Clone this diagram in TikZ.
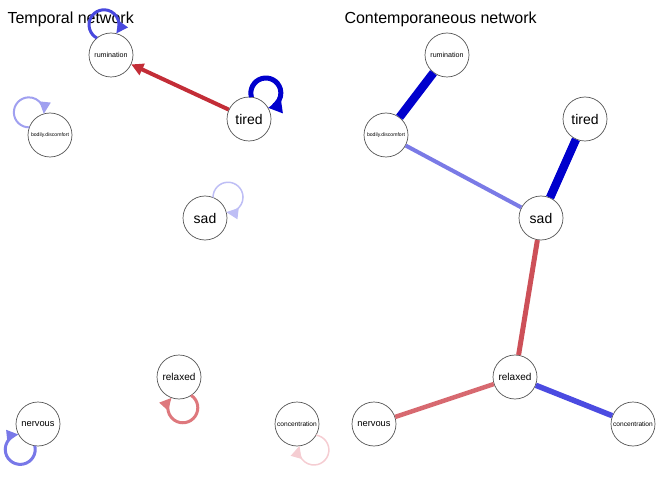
\documentclass[tikz,border=0pt]{standalone}
\usepackage{fontspec}
\setmainfont{Liberation Sans}
\usepackage{tikz}
\usetikzlibrary{arrows.meta}

\definecolor{posfull}{RGB}{0,0,205}
\definecolor{posrum}{RGB}{72,72,222}
\definecolor{posnerv}{RGB}{120,120,232}
\definecolor{posbod}{RGB}{160,160,240}
\definecolor{possad}{RGB}{190,190,245}
\definecolor{posmid}{RGB}{122,122,230}
\definecolor{posconc}{RGB}{75,75,225}
\definecolor{negtemp}{RGB}{195,45,55}
\definecolor{negrel}{RGB}{222,120,125}
\definecolor{negconc}{RGB}{245,205,210}
\definecolor{negsad}{RGB}{205,80,88}
\definecolor{negnerv}{RGB}{215,105,112}
\definecolor{rim}{RGB}{85,85,85}

\begin{document}
\begin{tikzpicture}[
  x=1pt, y=1pt,
  var/.style={circle, draw=rim, line width=0.7pt, fill=white,
              minimum size=44pt, inner sep=0pt, text=black},
  title/.style={anchor=base west, font=\fontsize{16}{16}\selectfont},
  tedge/.style={-{Triangle[length=12pt, width=12pt]}},
  selfloop/.style={-{Triangle[length=12pt, width=11pt]}},
  cedge/.style={line cap=butt}
]
  \useasboundingbox (0,0) rectangle (672,480);

  % titles
  \node[title] (ttl) at (4,456) {Temporal network};
  \node[title] (ctl) at (341,456) {Contemporaneous network};

  % same layout in both panels
  \foreach \nm/\x/\y/\lab/\fs in {R/111/425/rumination/7.1,
      B/50/345/bodily.discomfort/5.1, T/249/361/tired/14, S/205/262/sad/14,
      X/179/103/relaxed/10, N/38/56/nervous/9.3, C/297/56/concentration/6.6} {
    \node[var, font=\fontsize{\fs}{\fs}\selectfont] (t\nm) at (\x,\y) {\lab};
    \node[var, font=\fontsize{\fs}{\fs}\selectfont] (c\nm) at (\x+336,\y) {\lab};
  }

  % temporal network
  \draw[tedge, negtemp, line width=4pt] (tT) -- (tR);
  \foreach \n/\p/\c/\w in {tR/103/posrum/3, tB/133/posbod/2, tS/42/possad/1.5,
      tX/-83/negrel/3, tN/-125/posnerv/3, tC/-57/negconc/1.5} {
    \draw[selfloop, \c, line width=\w pt] ([shift={(\p+26.6:22pt)}]\n.center)
      arc[start angle=\p-221, end angle=\p-499, radius=15pt];
  }
  \draw[-{Triangle[length=14pt, width=14pt]}, posfull, line width=5pt]
    ([shift={(57+26.6:22pt)}]tT.center)
    arc[start angle=57-221, end angle=57-499, radius=15pt];

  % contemporaneous network
  \draw[cedge, posfull, line width=8.5pt] (cR) -- (cB);
  \draw[cedge, posfull, line width=8.5pt] (cT) -- (cS);
  \draw[cedge, posmid, line width=4pt] (cB) -- (cS);
  \draw[cedge, negsad, line width=5pt] (cS) -- (cX);
  \draw[cedge, negnerv, line width=4.5pt] (cX) -- (cN);
  \draw[cedge, posconc, line width=5.5pt] (cX) -- (cC);
\end{tikzpicture}
\end{document}
